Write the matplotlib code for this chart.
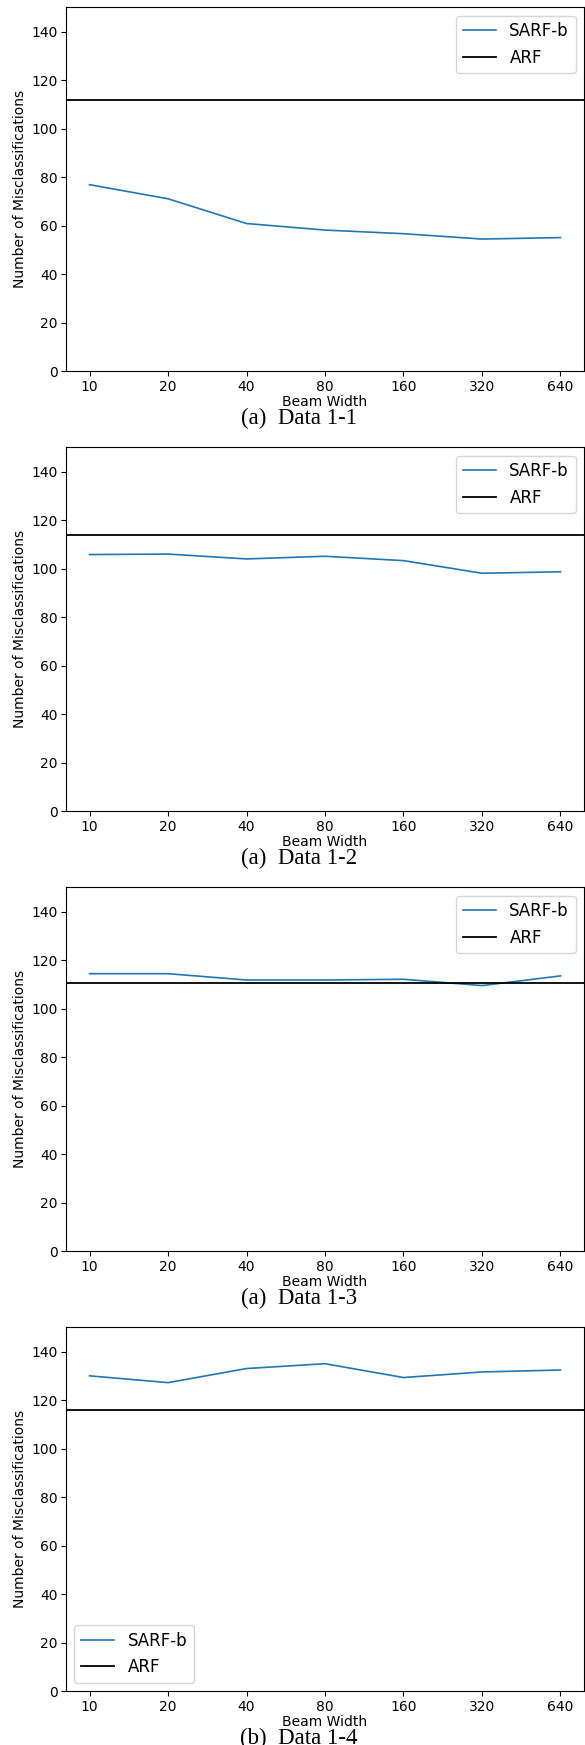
import matplotlib
matplotlib.use("Agg")
import matplotlib.pyplot as plt

beam_widths = ["10", "20", "40", "80", "160", "320", "640"]

sarf_1_1 = [76.9, 71.1, 60.9, 58.2, 56.7, 54.5, 55.1]
sarf_1_2 = [105.8, 106.0, 104.0, 105.1, 103.3, 98.1, 98.7]
sarf_1_3 = [114.4, 114.4, 111.8, 111.8, 112.1, 109.5, 113.5]
sarf_1_4 = [130.0, 127.2, 133.0, 135.0, 129.3, 131.6, 132.4]

arf_values = [111.8, 113.9, 110.7, 116.1]
captions = ["(a)  Data 1-1", "(a)  Data 1-2", "(a)  Data 1-3", "(b)  Data 1-4"]
legend_locs = ["upper right", "upper right", "upper right", "lower left"]

series = [sarf_1_1, sarf_1_2, sarf_1_3, sarf_1_4]

W, H = 585, 1745
fig = plt.figure(figsize=(W / 100, H / 100), dpi=100)

left_px, right_px = 66, 584
for i, (vals, arf, cap, loc) in enumerate(zip(series, arf_values, captions, legend_locs)):
    top_px = 440 * i + 7.3
    bot_px = 440 * i + 371.3
    ax = fig.add_axes([left_px / W, 1 - bot_px / H, (right_px - left_px) / W, (bot_px - top_px) / H])
    x = list(range(len(beam_widths)))
    ax.plot(x, vals, color="#1f77b4", lw=1.2, label="SARF-b")
    ax.axhline(arf, color="black", lw=1.3, label="ARF")
    ax.set_ylim(0, 150)
    ax.set_xlim(-0.3, 6.3)
    ax.set_yticks([0, 20, 40, 60, 80, 100, 120, 140])
    ax.set_xticks(x)
    ax.set_xticklabels(beam_widths)
    ax.tick_params(labelsize=10, length=3.5, pad=2.5)
    ax.set_xlabel("Beam Width", fontsize=10, labelpad=1)
    ax.set_ylabel("Number of Misclassifications", fontsize=10, labelpad=3)
    ax.legend(loc=loc, fontsize=12)
    fig.text(299 / W, 1 - (bot_px + 52.5) / H, cap, family="Liberation Serif",
             fontsize=16.5, ha="center", va="baseline")

fig.savefig("out.png", dpi=100)
